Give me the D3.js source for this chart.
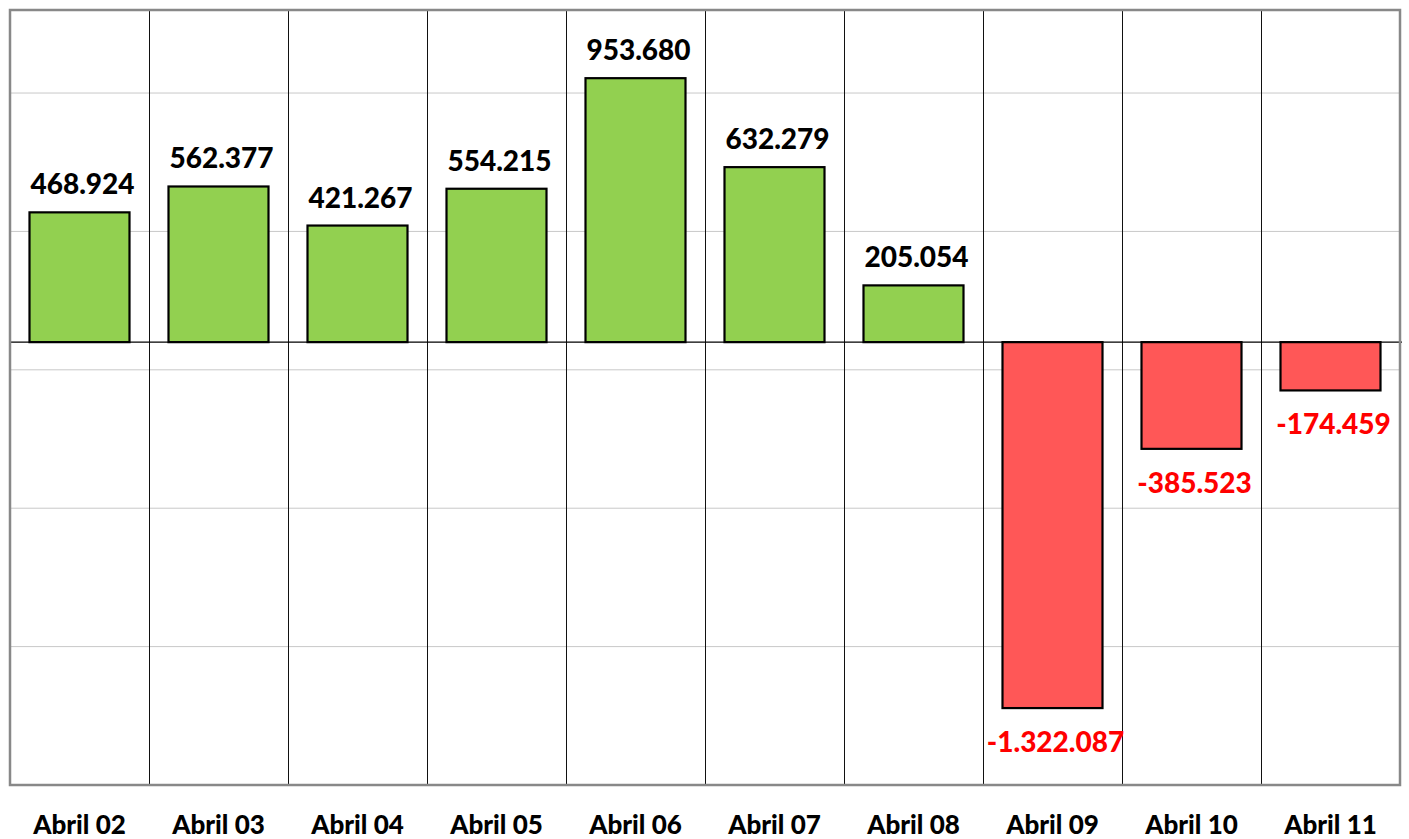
<!DOCTYPE html>
<html>
<head>
<meta charset="utf-8">
<script src="https://cdn.jsdelivr.net/npm/d3@7"></script>
<style>
  html, body { margin: 0; padding: 0; background: #fff; }
  svg { display: block; font-family: "Lato", "Open Sans", sans-serif; }
</style>
</head>
<body>
<svg id="chart" width="1409" height="839"></svg>
<script>
// ---- Data ----
const categories = ["Abril 02", "Abril 03", "Abril 04", "Abril 05", "Abril 06",
                    "Abril 07", "Abril 08", "Abril 09", "Abril 10", "Abril 11"];
const values = [468924, 562377, 421267, 554215, 953680,
                632279, 205054, -1322087, -385523, -174459];
const yDomain = [-1600000, 1200000];
const gridTicks = [-1600000, -1100000, -600000, -100000, 400000, 900000];

const data = categories.map((c, i) => ({ cat: c, value: values[i] }));

const svg = d3.select("#chart");
const plot = { left: 10, right: 1400, top: 10, bottom: 785 };

// Spanish style: dot as thousands separator, plain hyphen for minus
const fmt = d3.formatLocale({
  decimal: ",", thousands: ".", grouping: [3], currency: ["", ""], minus: "-"
}).format(",d");

const x = d3.scaleBand().domain(categories).range([plot.left, plot.right]).padding(0);
const y = d3.scaleLinear().domain(yDomain).range([plot.bottom, plot.top]);

const barW = 100;

// ---- Horizontal gridlines ----
svg.append("g")
  .selectAll("line")
  .data(gridTicks)
  .join("line")
  .attr("x1", plot.left).attr("x2", plot.right)
  .attr("y1", d => y(d)).attr("y2", d => y(d))
  .attr("stroke", "#c8c8c8").attr("stroke-width", 1);

// ---- Vertical separators ----
svg.append("g")
  .selectAll("line")
  .data(categories.slice(1))
  .join("line")
  .attr("x1", d => Math.round(x(d)) + 0.5).attr("x2", d => Math.round(x(d)) + 0.5)
  .attr("y1", plot.top).attr("y2", plot.bottom)
  .attr("stroke", "#111").attr("stroke-width", 1);

// ---- Bars ----
svg.append("g")
  .selectAll("rect")
  .data(data)
  .join("rect")
  .attr("x", d => x(d.cat) + (x.bandwidth() - barW) / 2)
  .attr("width", barW)
  .attr("y", d => y(Math.max(0, d.value)))
  .attr("height", d => Math.abs(y(d.value) - y(0)))
  .attr("fill", d => d.value >= 0 ? "#92d050" : "#ff5757")
  .attr("stroke", "#000").attr("stroke-width", 2.2);

// ---- Zero line ----
svg.append("line")
  .attr("x1", plot.left).attr("x2", plot.right + 2)
  .attr("y1", y(0)).attr("y2", y(0))
  .attr("stroke", "#000").attr("stroke-width", 1.2);

// ---- Border ----
svg.append("rect")
  .attr("x", plot.left).attr("y", plot.top)
  .attr("width", plot.right - plot.left).attr("height", plot.bottom - plot.top)
  .attr("fill", "none").attr("stroke", "#888").attr("stroke-width", 2.5);

// ---- Value labels ----
svg.append("g")
  .selectAll("text")
  .data(data)
  .join("text")
  .attr("x", d => x(d.cat) + x.bandwidth() / 2 + 3)
  .attr("y", d => d.value >= 0 ? y(d.value) - 18 : y(d.value) + 44)
  .attr("text-anchor", "middle")
  .attr("font-size", 28)
  .attr("font-weight", 900)
  .attr("fill", d => d.value >= 0 ? "#000" : "#ff0000")
  .text(d => fmt(d.value));

// ---- Category labels ----
svg.append("g")
  .selectAll("text")
  .data(categories)
  .join("text")
  .attr("x", d => x(d) + x.bandwidth() / 2)
  .attr("y", 834)
  .attr("text-anchor", "middle")
  .attr("font-size", 26)
  .attr("font-weight", 900)
  .attr("fill", "#000")
  .text(d => d);
</script>
</body>
</html>
